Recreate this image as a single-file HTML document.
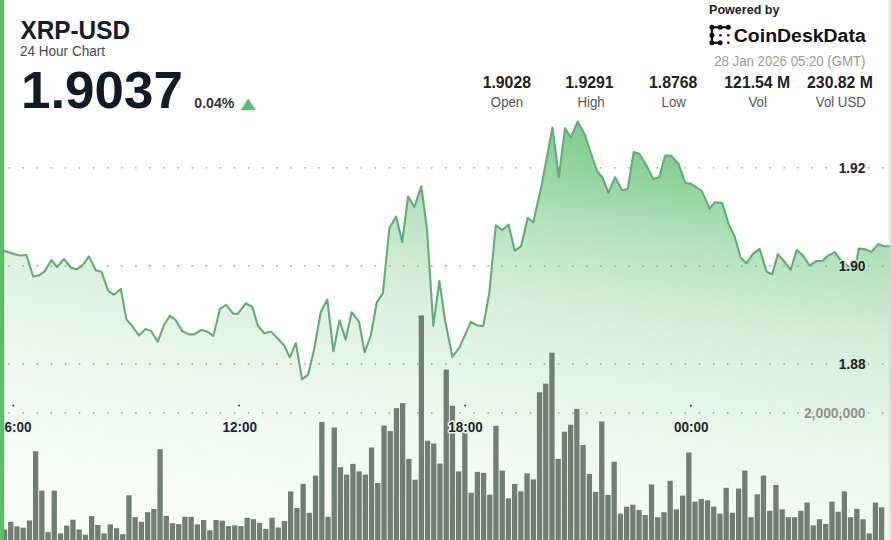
<!DOCTYPE html>
<html><head><meta charset="utf-8"><style>
html,body{margin:0;padding:0;background:#fff;}
body{width:892px;height:540px;overflow:hidden;position:relative;font-family:"Liberation Sans",sans-serif;}
svg{position:absolute;left:0;top:0;}
</style></head><body>
<svg width="892" height="540" viewBox="0 0 892 540" font-family="Liberation Sans, sans-serif">
<defs>
<linearGradient id="vg" gradientUnits="userSpaceOnUse" x1="0" y1="100" x2="0" y2="540"><stop offset="0.000" stop-color="#5cbf6f" stop-opacity="1.000"/><stop offset="0.091" stop-color="#5cbf6f" stop-opacity="1.000"/><stop offset="0.182" stop-color="#5cbf6f" stop-opacity="0.833"/><stop offset="0.273" stop-color="#5cbf6f" stop-opacity="0.634"/><stop offset="0.364" stop-color="#5cbf6f" stop-opacity="0.483"/><stop offset="0.455" stop-color="#5cbf6f" stop-opacity="0.367"/><stop offset="0.545" stop-color="#5cbf6f" stop-opacity="0.280"/><stop offset="0.636" stop-color="#5cbf6f" stop-opacity="0.213"/><stop offset="0.727" stop-color="#5cbf6f" stop-opacity="0.162"/><stop offset="0.818" stop-color="#5cbf6f" stop-opacity="0.123"/><stop offset="0.909" stop-color="#5cbf6f" stop-opacity="0.094"/><stop offset="1.000" stop-color="#5cbf6f" stop-opacity="0.071"/></linearGradient>
<linearGradient id="hg" gradientUnits="userSpaceOnUse" x1="0" y1="0" x2="892" y2="0">
<stop offset="0" stop-color="#fff" stop-opacity="0.436"/><stop offset="0.5" stop-color="#fff" stop-opacity="0.660"/><stop offset="1" stop-color="#fff" stop-opacity="1"/></linearGradient>
<mask id="hm" maskUnits="userSpaceOnUse" x="0" y="0" width="892" height="540"><rect x="0" y="0" width="892" height="540" fill="url(#hg)"/></mask>
</defs>
<rect width="892" height="540" fill="#fff"/>
<path d="M4,250.8 L11,253 L19.4,255.5 L26.4,255 L33.3,276.7 L38.9,275.3 L44.4,271.7 L51.4,260 L57,267 L63.9,259 L70.8,267.5 L76.4,269.4 L82,266 L88.9,256.4 L95.8,270.3 L101.4,271.7 L108.3,291 L113.9,294.7 L120.8,289 L126.4,319.4 L132,325.8 L138.9,335.5 L145.6,328.9 L151.1,331.1 L157.8,341.6 L164,325 L170,315.6 L175.6,320 L182.2,331.1 L188.9,334.4 L194.4,334.4 L201.1,330 L207.8,331.8 L213.3,336 L220,308.9 L226.2,304.9 L233.3,313.8 L237.8,313.8 L245.6,303.3 L252.2,306.7 L257.8,325.6 L264.4,333.3 L271.1,331.6 L282.2,343.3 L284.1,345.2 L289.8,357.4 L295.9,343.2 L302,379.4 L308.1,374.7 L314.2,349.3 L320.7,312.2 L327.3,299.4 L333.4,351.3 L339.5,320.3 L345.6,339.5 L351.7,312.2 L359,321.8 L364.6,352.3 L370.7,336 L376.8,302.4 L382.9,293.2 L389.4,228 L396.1,216.5 L402.2,242.3 L408.1,196.5 L414.4,207.1 L421.3,186.3 L427,229.1 L433.3,325.6 L439.4,281.1 L445,320 L452.4,357 L459.8,346.9 L470.9,321.9 L476.5,325.2 L483.3,326.1 L489.4,292.2 L495.8,225.3 L502.2,230 L508.6,224.7 L514.7,250.8 L521.1,246.1 L527.8,217.8 L533.3,222.5 L541.7,185 L552.5,127.5 L558.8,177 L565,128.3 L570.8,137.5 L577.8,121.7 L585,135 L592.5,158.3 L597.5,171.7 L602.5,177.5 L608.5,193 L615.2,177.2 L622,190.2 L627.8,188.9 L633.7,151.9 L639.3,153.7 L646.3,165.2 L653.3,179.1 L659.3,177.2 L665.2,155.6 L671.3,155.9 L678.7,164.3 L685.2,182.8 L690.7,183.7 L701.9,191.1 L709.6,208.7 L714.8,202.2 L722.2,203.1 L728.7,224.4 L734.3,235.6 L740.7,257.8 L746.3,263.3 L752.8,254.1 L759.6,248.9 L766.7,271.7 L772.2,274.4 L777.8,254.1 L784.3,261.5 L790.7,269.8 L796.7,250 L803.1,255.6 L809.6,265.7 L816.1,261.1 L822.6,260.7 L828.1,255.6 L835,252.2 L841.1,261.1 L855,271 L858.7,248.5 L865.1,249.1 L871.6,251.9 L878.1,244.1 L884.6,246.3 L892,246.3 L892,540 L0,540 L0,250.8 Z" fill="url(#vg)" mask="url(#hm)"/>
<g fill="#9fb0a3"><circle cx="9.1" cy="167.8" r="0.9"/><circle cx="23.2" cy="167.8" r="0.9"/><circle cx="37.3" cy="167.8" r="0.9"/><circle cx="51.4" cy="167.8" r="0.9"/><circle cx="65.5" cy="167.8" r="0.9"/><circle cx="79.5" cy="167.8" r="0.9"/><circle cx="93.6" cy="167.8" r="0.9"/><circle cx="107.7" cy="167.8" r="0.9"/><circle cx="121.8" cy="167.8" r="0.9"/><circle cx="135.9" cy="167.8" r="0.9"/><circle cx="150" cy="167.8" r="0.9"/><circle cx="164.1" cy="167.8" r="0.9"/><circle cx="178.2" cy="167.8" r="0.9"/><circle cx="192.3" cy="167.8" r="0.9"/><circle cx="206.4" cy="167.8" r="0.9"/><circle cx="220.4" cy="167.8" r="0.9"/><circle cx="234.5" cy="167.8" r="0.9"/><circle cx="248.6" cy="167.8" r="0.9"/><circle cx="262.7" cy="167.8" r="0.9"/><circle cx="276.8" cy="167.8" r="0.9"/><circle cx="290.9" cy="167.8" r="0.9"/><circle cx="305" cy="167.8" r="0.9"/><circle cx="319.1" cy="167.8" r="0.9"/><circle cx="333.2" cy="167.8" r="0.9"/><circle cx="347.3" cy="167.8" r="0.9"/><circle cx="361.4" cy="167.8" r="0.9"/><circle cx="375.4" cy="167.8" r="0.9"/><circle cx="389.5" cy="167.8" r="0.9"/><circle cx="403.6" cy="167.8" r="0.9"/><circle cx="417.7" cy="167.8" r="0.9"/><circle cx="431.8" cy="167.8" r="0.9"/><circle cx="445.9" cy="167.8" r="0.9"/><circle cx="460" cy="167.8" r="0.9"/><circle cx="474.1" cy="167.8" r="0.9"/><circle cx="488.2" cy="167.8" r="0.9"/><circle cx="502.2" cy="167.8" r="0.9"/><circle cx="516.3" cy="167.8" r="0.9"/><circle cx="530.4" cy="167.8" r="0.9"/><circle cx="544.5" cy="167.8" r="0.9"/><circle cx="558.6" cy="167.8" r="0.9"/><circle cx="572.7" cy="167.8" r="0.9"/><circle cx="586.8" cy="167.8" r="0.9"/><circle cx="600.9" cy="167.8" r="0.9"/><circle cx="615" cy="167.8" r="0.9"/><circle cx="629.1" cy="167.8" r="0.9"/><circle cx="643.1" cy="167.8" r="0.9"/><circle cx="657.2" cy="167.8" r="0.9"/><circle cx="671.3" cy="167.8" r="0.9"/><circle cx="685.4" cy="167.8" r="0.9"/><circle cx="699.5" cy="167.8" r="0.9"/><circle cx="713.6" cy="167.8" r="0.9"/><circle cx="727.7" cy="167.8" r="0.9"/><circle cx="741.8" cy="167.8" r="0.9"/><circle cx="755.9" cy="167.8" r="0.9"/><circle cx="770" cy="167.8" r="0.9"/><circle cx="784.1" cy="167.8" r="0.9"/><circle cx="798.1" cy="167.8" r="0.9"/><circle cx="812.2" cy="167.8" r="0.9"/><circle cx="826.3" cy="167.8" r="0.9"/><circle cx="840.4" cy="167.8" r="0.9"/><circle cx="854.5" cy="167.8" r="0.9"/><circle cx="868.6" cy="167.8" r="0.9"/><circle cx="882.7" cy="167.8" r="0.9"/><circle cx="9.1" cy="266" r="0.9"/><circle cx="23.2" cy="266" r="0.9"/><circle cx="37.3" cy="266" r="0.9"/><circle cx="51.4" cy="266" r="0.9"/><circle cx="65.5" cy="266" r="0.9"/><circle cx="79.5" cy="266" r="0.9"/><circle cx="93.6" cy="266" r="0.9"/><circle cx="107.7" cy="266" r="0.9"/><circle cx="121.8" cy="266" r="0.9"/><circle cx="135.9" cy="266" r="0.9"/><circle cx="150" cy="266" r="0.9"/><circle cx="164.1" cy="266" r="0.9"/><circle cx="178.2" cy="266" r="0.9"/><circle cx="192.3" cy="266" r="0.9"/><circle cx="206.4" cy="266" r="0.9"/><circle cx="220.4" cy="266" r="0.9"/><circle cx="234.5" cy="266" r="0.9"/><circle cx="248.6" cy="266" r="0.9"/><circle cx="262.7" cy="266" r="0.9"/><circle cx="276.8" cy="266" r="0.9"/><circle cx="290.9" cy="266" r="0.9"/><circle cx="305" cy="266" r="0.9"/><circle cx="319.1" cy="266" r="0.9"/><circle cx="333.2" cy="266" r="0.9"/><circle cx="347.3" cy="266" r="0.9"/><circle cx="361.4" cy="266" r="0.9"/><circle cx="375.4" cy="266" r="0.9"/><circle cx="389.5" cy="266" r="0.9"/><circle cx="403.6" cy="266" r="0.9"/><circle cx="417.7" cy="266" r="0.9"/><circle cx="431.8" cy="266" r="0.9"/><circle cx="445.9" cy="266" r="0.9"/><circle cx="460" cy="266" r="0.9"/><circle cx="474.1" cy="266" r="0.9"/><circle cx="488.2" cy="266" r="0.9"/><circle cx="502.2" cy="266" r="0.9"/><circle cx="516.3" cy="266" r="0.9"/><circle cx="530.4" cy="266" r="0.9"/><circle cx="544.5" cy="266" r="0.9"/><circle cx="558.6" cy="266" r="0.9"/><circle cx="572.7" cy="266" r="0.9"/><circle cx="586.8" cy="266" r="0.9"/><circle cx="600.9" cy="266" r="0.9"/><circle cx="615" cy="266" r="0.9"/><circle cx="629.1" cy="266" r="0.9"/><circle cx="643.1" cy="266" r="0.9"/><circle cx="657.2" cy="266" r="0.9"/><circle cx="671.3" cy="266" r="0.9"/><circle cx="685.4" cy="266" r="0.9"/><circle cx="699.5" cy="266" r="0.9"/><circle cx="713.6" cy="266" r="0.9"/><circle cx="727.7" cy="266" r="0.9"/><circle cx="741.8" cy="266" r="0.9"/><circle cx="755.9" cy="266" r="0.9"/><circle cx="770" cy="266" r="0.9"/><circle cx="784.1" cy="266" r="0.9"/><circle cx="798.1" cy="266" r="0.9"/><circle cx="812.2" cy="266" r="0.9"/><circle cx="826.3" cy="266" r="0.9"/><circle cx="840.4" cy="266" r="0.9"/><circle cx="854.5" cy="266" r="0.9"/><circle cx="868.6" cy="266" r="0.9"/><circle cx="882.7" cy="266" r="0.9"/><circle cx="9.1" cy="364" r="0.9"/><circle cx="23.2" cy="364" r="0.9"/><circle cx="37.3" cy="364" r="0.9"/><circle cx="51.4" cy="364" r="0.9"/><circle cx="65.5" cy="364" r="0.9"/><circle cx="79.5" cy="364" r="0.9"/><circle cx="93.6" cy="364" r="0.9"/><circle cx="107.7" cy="364" r="0.9"/><circle cx="121.8" cy="364" r="0.9"/><circle cx="135.9" cy="364" r="0.9"/><circle cx="150" cy="364" r="0.9"/><circle cx="164.1" cy="364" r="0.9"/><circle cx="178.2" cy="364" r="0.9"/><circle cx="192.3" cy="364" r="0.9"/><circle cx="206.4" cy="364" r="0.9"/><circle cx="220.4" cy="364" r="0.9"/><circle cx="234.5" cy="364" r="0.9"/><circle cx="248.6" cy="364" r="0.9"/><circle cx="262.7" cy="364" r="0.9"/><circle cx="276.8" cy="364" r="0.9"/><circle cx="290.9" cy="364" r="0.9"/><circle cx="305" cy="364" r="0.9"/><circle cx="319.1" cy="364" r="0.9"/><circle cx="333.2" cy="364" r="0.9"/><circle cx="347.3" cy="364" r="0.9"/><circle cx="361.4" cy="364" r="0.9"/><circle cx="375.4" cy="364" r="0.9"/><circle cx="389.5" cy="364" r="0.9"/><circle cx="403.6" cy="364" r="0.9"/><circle cx="417.7" cy="364" r="0.9"/><circle cx="431.8" cy="364" r="0.9"/><circle cx="445.9" cy="364" r="0.9"/><circle cx="460" cy="364" r="0.9"/><circle cx="474.1" cy="364" r="0.9"/><circle cx="488.2" cy="364" r="0.9"/><circle cx="502.2" cy="364" r="0.9"/><circle cx="516.3" cy="364" r="0.9"/><circle cx="530.4" cy="364" r="0.9"/><circle cx="544.5" cy="364" r="0.9"/><circle cx="558.6" cy="364" r="0.9"/><circle cx="572.7" cy="364" r="0.9"/><circle cx="586.8" cy="364" r="0.9"/><circle cx="600.9" cy="364" r="0.9"/><circle cx="615" cy="364" r="0.9"/><circle cx="629.1" cy="364" r="0.9"/><circle cx="643.1" cy="364" r="0.9"/><circle cx="657.2" cy="364" r="0.9"/><circle cx="671.3" cy="364" r="0.9"/><circle cx="685.4" cy="364" r="0.9"/><circle cx="699.5" cy="364" r="0.9"/><circle cx="713.6" cy="364" r="0.9"/><circle cx="727.7" cy="364" r="0.9"/><circle cx="741.8" cy="364" r="0.9"/><circle cx="755.9" cy="364" r="0.9"/><circle cx="770" cy="364" r="0.9"/><circle cx="784.1" cy="364" r="0.9"/><circle cx="798.1" cy="364" r="0.9"/><circle cx="812.2" cy="364" r="0.9"/><circle cx="826.3" cy="364" r="0.9"/><circle cx="840.4" cy="364" r="0.9"/><circle cx="854.5" cy="364" r="0.9"/><circle cx="868.6" cy="364" r="0.9"/><circle cx="882.7" cy="364" r="0.9"/><circle cx="9.1" cy="413" r="0.9"/><circle cx="23.2" cy="413" r="0.9"/><circle cx="37.3" cy="413" r="0.9"/><circle cx="51.4" cy="413" r="0.9"/><circle cx="65.5" cy="413" r="0.9"/><circle cx="79.5" cy="413" r="0.9"/><circle cx="93.6" cy="413" r="0.9"/><circle cx="107.7" cy="413" r="0.9"/><circle cx="121.8" cy="413" r="0.9"/><circle cx="135.9" cy="413" r="0.9"/><circle cx="150" cy="413" r="0.9"/><circle cx="164.1" cy="413" r="0.9"/><circle cx="178.2" cy="413" r="0.9"/><circle cx="192.3" cy="413" r="0.9"/><circle cx="206.4" cy="413" r="0.9"/><circle cx="220.4" cy="413" r="0.9"/><circle cx="234.5" cy="413" r="0.9"/><circle cx="248.6" cy="413" r="0.9"/><circle cx="262.7" cy="413" r="0.9"/><circle cx="276.8" cy="413" r="0.9"/><circle cx="290.9" cy="413" r="0.9"/><circle cx="305" cy="413" r="0.9"/><circle cx="319.1" cy="413" r="0.9"/><circle cx="333.2" cy="413" r="0.9"/><circle cx="347.3" cy="413" r="0.9"/><circle cx="361.4" cy="413" r="0.9"/><circle cx="375.4" cy="413" r="0.9"/><circle cx="389.5" cy="413" r="0.9"/><circle cx="403.6" cy="413" r="0.9"/><circle cx="417.7" cy="413" r="0.9"/><circle cx="431.8" cy="413" r="0.9"/><circle cx="445.9" cy="413" r="0.9"/><circle cx="460" cy="413" r="0.9"/><circle cx="474.1" cy="413" r="0.9"/><circle cx="488.2" cy="413" r="0.9"/><circle cx="502.2" cy="413" r="0.9"/><circle cx="516.3" cy="413" r="0.9"/><circle cx="530.4" cy="413" r="0.9"/><circle cx="544.5" cy="413" r="0.9"/><circle cx="558.6" cy="413" r="0.9"/><circle cx="572.7" cy="413" r="0.9"/><circle cx="586.8" cy="413" r="0.9"/><circle cx="600.9" cy="413" r="0.9"/><circle cx="615" cy="413" r="0.9"/><circle cx="629.1" cy="413" r="0.9"/><circle cx="643.1" cy="413" r="0.9"/><circle cx="657.2" cy="413" r="0.9"/><circle cx="671.3" cy="413" r="0.9"/><circle cx="685.4" cy="413" r="0.9"/><circle cx="699.5" cy="413" r="0.9"/><circle cx="713.6" cy="413" r="0.9"/><circle cx="727.7" cy="413" r="0.9"/><circle cx="741.8" cy="413" r="0.9"/><circle cx="755.9" cy="413" r="0.9"/><circle cx="770" cy="413" r="0.9"/><circle cx="784.1" cy="413" r="0.9"/><circle cx="798.1" cy="413" r="0.9"/><circle cx="812.2" cy="413" r="0.9"/><circle cx="826.3" cy="413" r="0.9"/><circle cx="840.4" cy="413" r="0.9"/><circle cx="854.5" cy="413" r="0.9"/><circle cx="868.6" cy="413" r="0.9"/><circle cx="882.7" cy="413" r="0.9"/></g>
<path d="M4,250.8 L11,253 L19.4,255.5 L26.4,255 L33.3,276.7 L38.9,275.3 L44.4,271.7 L51.4,260 L57,267 L63.9,259 L70.8,267.5 L76.4,269.4 L82,266 L88.9,256.4 L95.8,270.3 L101.4,271.7 L108.3,291 L113.9,294.7 L120.8,289 L126.4,319.4 L132,325.8 L138.9,335.5 L145.6,328.9 L151.1,331.1 L157.8,341.6 L164,325 L170,315.6 L175.6,320 L182.2,331.1 L188.9,334.4 L194.4,334.4 L201.1,330 L207.8,331.8 L213.3,336 L220,308.9 L226.2,304.9 L233.3,313.8 L237.8,313.8 L245.6,303.3 L252.2,306.7 L257.8,325.6 L264.4,333.3 L271.1,331.6 L282.2,343.3 L284.1,345.2 L289.8,357.4 L295.9,343.2 L302,379.4 L308.1,374.7 L314.2,349.3 L320.7,312.2 L327.3,299.4 L333.4,351.3 L339.5,320.3 L345.6,339.5 L351.7,312.2 L359,321.8 L364.6,352.3 L370.7,336 L376.8,302.4 L382.9,293.2 L389.4,228 L396.1,216.5 L402.2,242.3 L408.1,196.5 L414.4,207.1 L421.3,186.3 L427,229.1 L433.3,325.6 L439.4,281.1 L445,320 L452.4,357 L459.8,346.9 L470.9,321.9 L476.5,325.2 L483.3,326.1 L489.4,292.2 L495.8,225.3 L502.2,230 L508.6,224.7 L514.7,250.8 L521.1,246.1 L527.8,217.8 L533.3,222.5 L541.7,185 L552.5,127.5 L558.8,177 L565,128.3 L570.8,137.5 L577.8,121.7 L585,135 L592.5,158.3 L597.5,171.7 L602.5,177.5 L608.5,193 L615.2,177.2 L622,190.2 L627.8,188.9 L633.7,151.9 L639.3,153.7 L646.3,165.2 L653.3,179.1 L659.3,177.2 L665.2,155.6 L671.3,155.9 L678.7,164.3 L685.2,182.8 L690.7,183.7 L701.9,191.1 L709.6,208.7 L714.8,202.2 L722.2,203.1 L728.7,224.4 L734.3,235.6 L740.7,257.8 L746.3,263.3 L752.8,254.1 L759.6,248.9 L766.7,271.7 L772.2,274.4 L777.8,254.1 L784.3,261.5 L790.7,269.8 L796.7,250 L803.1,255.6 L809.6,265.7 L816.1,261.1 L822.6,260.7 L828.1,255.6 L835,252.2 L841.1,261.1 L855,271 L858.7,248.5 L865.1,249.1 L871.6,251.9 L878.1,244.1 L884.6,246.3 L892,246.3" fill="none" stroke="#62ad76" stroke-width="2.1" stroke-linejoin="round" stroke-linecap="round"/>
<g fill="#717e73">
<rect x="1.9" y="529.5" width="5.3" height="10.5"/>
<rect x="8.1" y="521.8" width="5.3" height="18.2"/>
<rect x="14.3" y="526.4" width="5.3" height="13.6"/>
<rect x="20.5" y="527.7" width="5.3" height="12.3"/>
<rect x="26.8" y="520.5" width="5.3" height="19.5"/>
<rect x="33" y="451.3" width="5.3" height="88.7"/>
<rect x="39.2" y="490.7" width="5.3" height="49.3"/>
<rect x="45.4" y="532.1" width="5.3" height="7.9"/>
<rect x="51.6" y="490.7" width="5.3" height="49.3"/>
<rect x="57.9" y="533.4" width="5.3" height="6.6"/>
<rect x="64.1" y="525.6" width="5.3" height="14.4"/>
<rect x="70.3" y="519.7" width="5.3" height="20.3"/>
<rect x="76.5" y="529.5" width="5.3" height="10.5"/>
<rect x="82.8" y="534.7" width="5.3" height="5.3"/>
<rect x="89" y="516.1" width="5.3" height="23.9"/>
<rect x="95.2" y="524.9" width="5.3" height="15.1"/>
<rect x="101.4" y="533.4" width="5.3" height="6.6"/>
<rect x="107.6" y="524.4" width="5.3" height="15.6"/>
<rect x="113.9" y="528.2" width="5.3" height="11.8"/>
<rect x="120.1" y="534.2" width="5.3" height="5.8"/>
<rect x="126.3" y="495.3" width="5.3" height="44.7"/>
<rect x="132.5" y="517.1" width="5.3" height="22.9"/>
<rect x="138.7" y="521.8" width="5.3" height="18.2"/>
<rect x="145" y="512.2" width="5.3" height="27.8"/>
<rect x="151.2" y="508.9" width="5.3" height="31.1"/>
<rect x="157.4" y="449.2" width="5.3" height="90.8"/>
<rect x="163.6" y="515.8" width="5.3" height="24.2"/>
<rect x="169.8" y="523.3" width="5.3" height="16.7"/>
<rect x="176.1" y="524.2" width="5.3" height="15.8"/>
<rect x="182.3" y="516.7" width="5.3" height="23.3"/>
<rect x="188.5" y="516.9" width="5.3" height="23.1"/>
<rect x="194.7" y="524.4" width="5.3" height="15.6"/>
<rect x="201" y="520" width="5.3" height="20"/>
<rect x="207.2" y="530.3" width="5.3" height="9.7"/>
<rect x="213.4" y="520" width="5.3" height="20"/>
<rect x="219.6" y="520.6" width="5.3" height="19.4"/>
<rect x="225.8" y="526.1" width="5.3" height="13.9"/>
<rect x="232.1" y="525.3" width="5.3" height="14.7"/>
<rect x="238.3" y="526.1" width="5.3" height="13.9"/>
<rect x="244.5" y="517.8" width="5.3" height="22.2"/>
<rect x="250.7" y="519.2" width="5.3" height="20.8"/>
<rect x="256.9" y="522.8" width="5.3" height="17.2"/>
<rect x="263.2" y="528.9" width="5.3" height="11.1"/>
<rect x="269.4" y="517.8" width="5.3" height="22.2"/>
<rect x="275.6" y="527.5" width="5.3" height="12.5"/>
<rect x="281.8" y="521.1" width="5.3" height="18.9"/>
<rect x="288" y="491.4" width="5.3" height="48.6"/>
<rect x="294.3" y="508" width="5.3" height="32"/>
<rect x="300.5" y="483.9" width="5.3" height="56.1"/>
<rect x="306.7" y="512.8" width="5.3" height="27.2"/>
<rect x="312.9" y="475.6" width="5.3" height="64.4"/>
<rect x="319.2" y="421.9" width="5.3" height="118.1"/>
<rect x="325.4" y="516.9" width="5.3" height="23.1"/>
<rect x="331.6" y="427.5" width="5.3" height="112.5"/>
<rect x="337.8" y="467.2" width="5.3" height="72.8"/>
<rect x="344" y="474.7" width="5.3" height="65.3"/>
<rect x="350.3" y="463.9" width="5.3" height="76.1"/>
<rect x="356.5" y="471.4" width="5.3" height="68.6"/>
<rect x="362.7" y="474.7" width="5.3" height="65.3"/>
<rect x="368.9" y="447.5" width="5.3" height="92.5"/>
<rect x="375.1" y="483.1" width="5.3" height="56.9"/>
<rect x="381.4" y="425.6" width="5.3" height="114.4"/>
<rect x="387.6" y="431.1" width="5.3" height="108.9"/>
<rect x="393.8" y="408.1" width="5.3" height="131.9"/>
<rect x="400" y="403.1" width="5.3" height="136.9"/>
<rect x="406.2" y="458.9" width="5.3" height="81.1"/>
<rect x="412.5" y="479.7" width="5.3" height="60.3"/>
<rect x="418.7" y="315.4" width="5.3" height="224.6"/>
<rect x="424.9" y="440.7" width="5.3" height="99.3"/>
<rect x="431.1" y="443.5" width="5.3" height="96.5"/>
<rect x="437.3" y="463.6" width="5.3" height="76.4"/>
<rect x="443.6" y="369.6" width="5.3" height="170.4"/>
<rect x="449.8" y="405.8" width="5.3" height="134.2"/>
<rect x="456" y="471.4" width="5.3" height="68.6"/>
<rect x="462.2" y="431.1" width="5.3" height="108.9"/>
<rect x="468.5" y="492.8" width="5.3" height="47.2"/>
<rect x="474.7" y="471.9" width="5.3" height="68.1"/>
<rect x="480.9" y="472.8" width="5.3" height="67.2"/>
<rect x="487.1" y="494.7" width="5.3" height="45.3"/>
<rect x="493.3" y="425.8" width="5.3" height="114.2"/>
<rect x="499.6" y="470.6" width="5.3" height="69.4"/>
<rect x="505.8" y="498.3" width="5.3" height="41.7"/>
<rect x="512" y="483.9" width="5.3" height="56.1"/>
<rect x="518.2" y="491.4" width="5.3" height="48.6"/>
<rect x="524.4" y="473.3" width="5.3" height="66.7"/>
<rect x="530.7" y="479.4" width="5.3" height="60.6"/>
<rect x="536.9" y="392.3" width="5.3" height="147.7"/>
<rect x="543.1" y="383.6" width="5.3" height="156.4"/>
<rect x="549.3" y="352.7" width="5.3" height="187.3"/>
<rect x="555.5" y="458.9" width="5.3" height="81.1"/>
<rect x="561.8" y="431.7" width="5.3" height="108.3"/>
<rect x="568" y="424.7" width="5.3" height="115.3"/>
<rect x="574.2" y="408.9" width="5.3" height="131.1"/>
<rect x="580.4" y="445" width="5.3" height="95"/>
<rect x="586.7" y="473.9" width="5.3" height="66.1"/>
<rect x="592.9" y="491.9" width="5.3" height="48.1"/>
<rect x="599.1" y="421.4" width="5.3" height="118.6"/>
<rect x="605.3" y="495" width="5.3" height="45"/>
<rect x="611.5" y="461.7" width="5.3" height="78.3"/>
<rect x="617.8" y="513.6" width="5.3" height="26.4"/>
<rect x="624" y="506.7" width="5.3" height="33.3"/>
<rect x="630.2" y="504.7" width="5.3" height="35.3"/>
<rect x="636.4" y="510" width="5.3" height="30"/>
<rect x="642.6" y="515" width="5.3" height="25"/>
<rect x="648.9" y="484.4" width="5.3" height="55.6"/>
<rect x="655.1" y="517.2" width="5.3" height="22.8"/>
<rect x="661.3" y="512.2" width="5.3" height="27.8"/>
<rect x="667.5" y="480.8" width="5.3" height="59.2"/>
<rect x="673.7" y="509.4" width="5.3" height="30.6"/>
<rect x="680" y="495.6" width="5.3" height="44.4"/>
<rect x="686.2" y="452.5" width="5.3" height="87.5"/>
<rect x="692.4" y="501.7" width="5.3" height="38.3"/>
<rect x="698.6" y="498.9" width="5.3" height="41.1"/>
<rect x="704.9" y="500.3" width="5.3" height="39.7"/>
<rect x="711.1" y="506.7" width="5.3" height="33.3"/>
<rect x="717.3" y="513.6" width="5.3" height="26.4"/>
<rect x="723.5" y="487.8" width="5.3" height="52.2"/>
<rect x="729.7" y="512.8" width="5.3" height="27.2"/>
<rect x="736" y="488.6" width="5.3" height="51.4"/>
<rect x="742.2" y="470.6" width="5.3" height="69.4"/>
<rect x="748.4" y="517.2" width="5.3" height="22.8"/>
<rect x="754.6" y="494.2" width="5.3" height="45.8"/>
<rect x="760.8" y="475.6" width="5.3" height="64.4"/>
<rect x="767.1" y="510.8" width="5.3" height="29.2"/>
<rect x="773.3" y="485" width="5.3" height="55"/>
<rect x="779.5" y="509.4" width="5.3" height="30.6"/>
<rect x="785.7" y="517.2" width="5.3" height="22.8"/>
<rect x="791.9" y="517.2" width="5.3" height="22.8"/>
<rect x="798.2" y="510.8" width="5.3" height="29.2"/>
<rect x="804.4" y="502.5" width="5.3" height="37.5"/>
<rect x="810.6" y="525.3" width="5.3" height="14.7"/>
<rect x="816.8" y="519.2" width="5.3" height="20.8"/>
<rect x="823.1" y="523.9" width="5.3" height="16.1"/>
<rect x="829.3" y="501.7" width="5.3" height="38.3"/>
<rect x="835.5" y="511.7" width="5.3" height="28.3"/>
<rect x="841.7" y="491.4" width="5.3" height="48.6"/>
<rect x="847.9" y="517.2" width="5.3" height="22.8"/>
<rect x="854.2" y="508.9" width="5.3" height="31.1"/>
<rect x="860.4" y="519.2" width="5.3" height="20.8"/>
<rect x="866.6" y="533.4" width="5.3" height="6.6"/>
<rect x="872.8" y="502.6" width="5.3" height="37.4"/>
<rect x="879" y="507.3" width="5.3" height="32.7"/>
</g>
<text transform="translate(20.41,38.7) scale(0.9667,1)" font-size="25.211" font-weight="bold" fill="#161c28">XRP-USD</text>
<text transform="translate(19.97,55.6) scale(0.9388,1)" font-size="14.429" font-weight="normal" fill="#4a4a4a">24 Hour Chart</text>
<text transform="translate(20.92,108.0) scale(1.0392,1)" font-size="50.986" font-weight="bold" fill="#131a27">1.9037</text>
<text transform="translate(194.34,107.76) scale(0.9996,1)" font-size="14.085" font-weight="bold" fill="#333">0.04%</text>
<text transform="translate(709.02,14.2) scale(0.9308,1)" font-size="13.478" font-weight="bold" fill="#222">Powered by</text>
<text transform="translate(733.82,41.81) scale(1.0162,1)" font-size="19.155" font-weight="bold" fill="#111">CoinDeskData</text>
<text transform="translate(714.24,65.56) scale(0.9299,1)" font-size="14.225" font-weight="normal" fill="#9a9a9a">28 Jan 2026 05:20 (GMT)</text>
<text transform="translate(482.63,87.6) scale(1.0067,1)" font-size="15.7" font-weight="bold" fill="#222">1.9028</text>
<text transform="translate(565.33,87.6) scale(1.0067,1)" font-size="15.7" font-weight="bold" fill="#222">1.9291</text>
<text transform="translate(649.08,87.6) scale(1.0067,1)" font-size="15.7" font-weight="bold" fill="#222">1.8768</text>
<text transform="translate(724.33,87.6) scale(1.0067,1)" font-size="15.7" font-weight="bold" fill="#222">121.54 M</text>
<text transform="translate(807.06,87.6) scale(1.0067,1)" font-size="15.7" font-weight="bold" fill="#222">230.82 M</text>
<text transform="translate(490.87,106.55) scale(0.8917,1)" font-size="14.843" font-weight="normal" fill="#555">Open</text>
<text transform="translate(577.45,106.7) scale(0.8917,1)" font-size="14.843" font-weight="normal" fill="#555">High</text>
<text transform="translate(661.59,106.7) scale(0.8917,1)" font-size="14.843" font-weight="normal" fill="#555">Low</text>
<text transform="translate(748.45,106.7) scale(0.8917,1)" font-size="14.843" font-weight="normal" fill="#555">Vol</text>
<text transform="translate(815.8,106.7) scale(0.8917,1)" font-size="14.843" font-weight="normal" fill="#555">Vol USD</text>
<text transform="translate(838.69,173.15) scale(0.9391,1)" font-size="14.601" font-weight="bold" fill="#222" stroke="#ffffff" stroke-width="3" stroke-linejoin="round" paint-order="stroke">1.92</text>
<text transform="translate(838.71,270.85) scale(0.9391,1)" font-size="14.601" font-weight="bold" fill="#222" stroke="#c2e5c9" stroke-width="3.5" stroke-linejoin="round" paint-order="stroke">1.90</text>
<text transform="translate(838.83,368.75) scale(0.9391,1)" font-size="14.601" font-weight="bold" fill="#222" stroke="#d5eeda" stroke-width="3" stroke-linejoin="round" paint-order="stroke">1.88</text>
<text transform="translate(803.88,418.0) scale(0.9526,1)" font-size="14.571" font-weight="bold" fill="#8c938d" stroke="#e6f4e9" stroke-width="2.5" stroke-linejoin="round" paint-order="stroke">2,000,000</text>
<text transform="translate(4.46,431.86) scale(0.9481,1)" font-size="14.225" font-weight="bold" fill="#1e2530" stroke="#f0f8f2" stroke-width="3" stroke-linejoin="round" paint-order="stroke">6:00</text>
<text transform="translate(222.5,431.86) scale(0.9481,1)" font-size="14.225" font-weight="bold" fill="#1e2530" stroke="#eef7f0" stroke-width="3" stroke-linejoin="round" paint-order="stroke">12:00</text>
<text transform="translate(448.35,431.86) scale(0.9481,1)" font-size="14.225" font-weight="bold" fill="#1e2530" stroke="#e9f5ec" stroke-width="3" stroke-linejoin="round" paint-order="stroke">18:00</text>
<text transform="translate(673.89,431.86) scale(0.9481,1)" font-size="14.225" font-weight="bold" fill="#1e2530" stroke="#e6f4e9" stroke-width="3" stroke-linejoin="round" paint-order="stroke">00:00</text>
<g fill="#333"><circle cx="13.3" cy="405.6" r="1"/><circle cx="239.1" cy="405.6" r="1"/><circle cx="465.2" cy="405.6" r="1"/><circle cx="690.8" cy="405.7" r="1"/></g>
<path d="M240.6,110.2 L255.9,110.2 L248.25,98.5 Z" fill="#5cbf6f"/>
<!-- logo -->
<g fill="#111">
<circle cx="711.9" cy="27.3" r="2.5"/><circle cx="720.2" cy="27.3" r="2.5"/><circle cx="728.3" cy="27.3" r="2.5"/>
<circle cx="711.9" cy="35.2" r="2.5"/><circle cx="711.9" cy="42.8" r="2.5"/><circle cx="720.2" cy="42.8" r="2.5"/>
<rect x="711.9" y="26.2" width="16.4" height="2.2"/><rect x="710.8" y="27.3" width="2.2" height="15.5"/><rect x="711.9" y="41.7" width="8.3" height="2.2"/>
<circle cx="720.4" cy="35.2" r="1.3"/><circle cx="728.3" cy="35.2" r="1.3"/><circle cx="728.3" cy="42.8" r="1.3"/>
</g>
<linearGradient id="rg" x1="0" y1="0" x2="1" y2="0"><stop offset="0" stop-color="#d6d6d6" stop-opacity="0"/><stop offset="1" stop-color="#d6d6d6" stop-opacity="1"/></linearGradient>
<rect x="887.5" y="0" width="4.5" height="540" fill="url(#rg)"/>
<rect x="0" y="0" width="4" height="540" fill="#5dbf6e"/>
<rect x="3.2" y="0" width="1" height="540" fill="#6aa57a"/>
</svg>
</body></html>
